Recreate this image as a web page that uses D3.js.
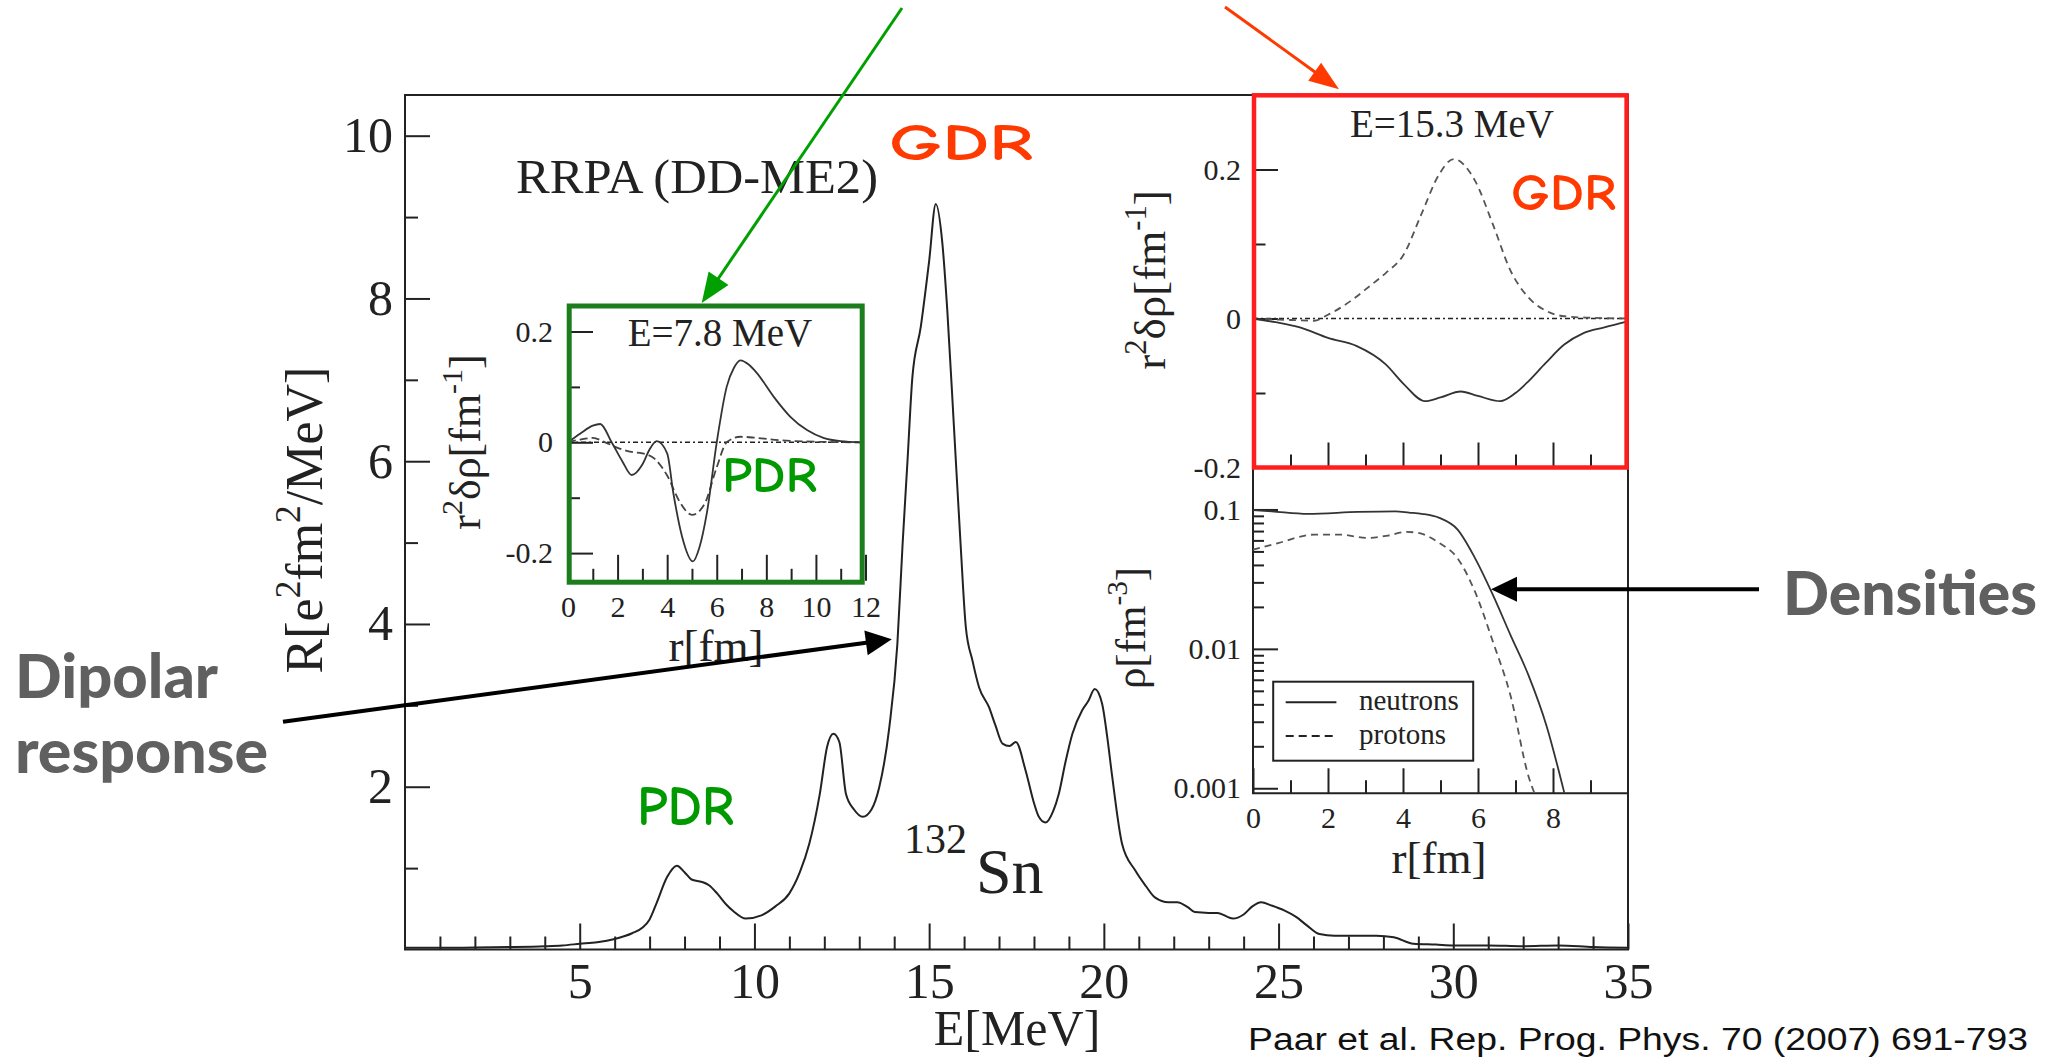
<!DOCTYPE html>
<html><head><meta charset="utf-8">
<script src="https://cdn.jsdelivr.net/npm/d3@7"></script>
<style>body{margin:0;background:#fff}svg{display:block}</style>
</head><body>
<svg id="c" width="2060" height="1058"></svg>
<script>
// ---------- DATA ----------
const spectrumE = [0,1,2,3,4,4.5,5,5.5,6,6.5,6.8,7.0,7.2,7.5,7.78,8.0,8.2,8.5,8.7,8.95,9.2,9.4,9.75,10.2,10.6,11.0,11.3,11.57,11.87,12.08,12.26,12.43,12.62,12.85,13.1,13.35,13.57,13.86,14.09,14.24,14.38,14.52,14.76,15.0,15.19,15.38,15.52,15.71,15.9,16.05,16.24,16.43,16.71,16.9,17.1,17.3,17.48,17.76,18.0,18.14,18.33,18.55,18.71,18.9,19.1,19.38,19.55,19.74,19.95,20.1,20.24,20.52,20.9,21.2,21.46,21.85,22.1,22.4,22.6,23.0,23.25,23.69,24.0,24.25,24.5,24.8,25.16,25.5,25.8,26.17,26.6,27.0,27.8,28.3,28.86,29.5,30,31,32,33,34,35];
const spectrumR = [0.02,0.02,0.025,0.03,0.04,0.05,0.07,0.09,0.13,0.2,0.27,0.37,0.57,0.89,1.03,0.95,0.86,0.83,0.79,0.68,0.55,0.47,0.38,0.42,0.53,0.69,0.95,1.3,1.91,2.49,2.65,2.55,1.91,1.72,1.63,1.72,1.99,2.73,3.75,4.98,6.0,7.03,7.65,8.46,9.16,8.67,7.85,6.42,4.98,3.96,3.55,3.22,2.98,2.75,2.53,2.5,2.55,2.2,1.8,1.63,1.56,1.7,1.91,2.3,2.65,2.94,3.05,3.2,3.02,2.6,2.12,1.3,0.97,0.78,0.64,0.58,0.58,0.52,0.46,0.45,0.45,0.38,0.43,0.53,0.58,0.54,0.48,0.4,0.3,0.19,0.17,0.17,0.17,0.15,0.07,0.06,0.05,0.05,0.04,0.05,0.03,0.02];
const mainXTicks = [5,10,15,20,25,30,35];
const mainXMinor = [1,2,3,4,6,7,8,9,11,12,13,14,16,17,18,19,21,22,23,24,26,27,28,29,31,32,33,34];
const mainYTicks = [2,4,6,8,10];
const mainYMinor = [1,3,5,7,9];

// PDR inset (E=7.8 MeV)
const pdrNeutronR = [0,0.5,1.0,1.3,1.76,2.2,2.57,3.0,3.3,3.58,4.0,4.25,4.6,5.04,5.3,5.6,6.0,6.4,6.7,6.95,7.3,7.62,8.3,8.97,9.64,10.3,11.0,11.8];
const pdrNeutronV = [0,0.016,0.03,0.033,0.0,-0.035,-0.059,-0.04,-0.012,0.002,-0.02,-0.092,-0.17,-0.215,-0.19,-0.128,0.0,0.1,0.135,0.148,0.14,0.125,0.082,0.046,0.022,0.008,0.002,0.0];
const pdrProtonR = [0,0.5,1.0,1.5,2.0,2.5,3.0,3.5,4.0,4.5,5.0,5.5,6.0,6.4,6.95,7.6,8.5,10,11.8];
const pdrProtonV = [0,0.005,0.008,0.0,-0.01,-0.017,-0.02,-0.03,-0.06,-0.107,-0.131,-0.112,-0.045,0.0,0.01,0.008,0.004,0.001,0];
const pdrXTicks = [0,2,4,6,8,10,12];
const pdrXMinor = [1,3,5,7,9,11];
const pdrYTicks = [-0.2,0,0.2];
const pdrYMinor = [-0.1,0.1];

// GDR inset (E=15.3 MeV)
const gdrProtonR = [0,1.0,1.63,2.0,2.59,3.1,3.54,4.02,4.49,4.97,5.35,5.92,6.4,6.87,7.35,7.83,8.3,9.0,10];
const gdrProtonV = [0,-0.002,-0.003,0.005,0.023,0.043,0.061,0.086,0.14,0.194,0.214,0.185,0.126,0.064,0.028,0.01,0.003,0.001,0];
const gdrNeutronR = [0,0.6,1.25,2.0,2.77,3.54,4.02,4.59,5.0,5.54,6.0,6.59,7.0,7.35,7.8,8.3,8.8,9.37,10];
const gdrNeutronV = [0,-0.005,-0.012,-0.026,-0.037,-0.0615,-0.088,-0.111,-0.106,-0.098,-0.104,-0.111,-0.1,-0.084,-0.06,-0.035,-0.02,-0.012,-0.004];
const gdrYTicks = [-0.2,0,0.2];
const gdrYMinor = [-0.1,0.1];
const rTicks = [0,2,4,6,8];
const rMinor = [1,3,5,7,9];

// Densities
const densNeutronR = [0,0.5,1.46,2.8,3.8,4.16,4.5,4.97,5.45,5.92,6.4,6.87,7.35,7.83,8.3];
const densNeutronRho = [0.099,0.097,0.093,0.096,0.097,0.095,0.093,0.087,0.072,0.0448,0.0243,0.0125,0.00643,0.00279,0.00093];
const densProtonR = [0,0.67,1.63,2.3,3.07,3.6,4.09,4.4,4.97,5.45,5.92,6.4,6.87,7.35,7.5];
const densProtonRho = [0.0514,0.0574,0.066,0.066,0.0624,0.065,0.069,0.068,0.0574,0.0448,0.0257,0.0112,0.00459,0.00121,0.00093];
const densYTicks = [0.1,0.01,0.001];
const densYMinor = [0.002,0.003,0.004,0.005,0.006,0.007,0.008,0.009,0.02,0.03,0.04,0.05,0.06,0.07,0.08,0.09];
const legendLabels = ["neutrons","protons"];

// ---------- DRAWING ----------
const svg = d3.select("#c");
const serif = "'Liberation Serif','Times New Roman',serif";
const comic = "'Comic Sans MS','Comic Neue','Noto Sans',sans-serif";
const heavy = "Lato,'Open Sans',Roboto,sans-serif";
const ink = "#222";
const fmt = d => String(d);

function styleAxis(g, fs){
  g.select(".domain").remove();
  g.selectAll("line").attr("stroke", ink).attr("stroke-width", 2);
  g.selectAll("text").attr("font-family", serif).attr("font-size", fs).attr("fill", ink);
}
function axis(gen, tx, ty, fs){
  svg.append("g").attr("transform", `translate(${tx},${ty})`).call(gen).call(g => styleAxis(g, fs));
}
function rich(sel, parts, fs){
  let shift = 0;
  parts.forEach(([s, sup]) => {
    const t = sup ? -0.42*fs : 0;
    sel.append("tspan").attr("dy", t - shift).attr("font-size", sup ? fs*0.68 : fs).text(s);
    shift = t;
  });
}
function vlabel(x, y, parts, fs){
  const t = svg.append("text").attr("transform", `translate(${x},${y}) rotate(-90)`)
    .attr("text-anchor","middle").attr("font-family", serif).attr("fill", ink).attr("font-size", fs);
  rich(t, parts, fs);
}
function label(x, y, s, fs, opts={}){
  const t = svg.append("text").attr("x", x).attr("y", y).attr("font-family", opts.family || serif)
    .attr("font-size", fs).attr("fill", opts.fill || ink).attr("text-anchor", opts.anchor || "start")
    .attr("font-weight", opts.weight || "normal").text(s);
  if (opts.len) t.attr("textLength", opts.len).attr("lengthAdjust", "spacingAndGlyphs");
  return t;
}
function arrow(x1,y1,x2,y2,color,w,hl,hw){
  const dx=x2-x1, dy=y2-y1, L=Math.hypot(dx,dy), ux=dx/L, uy=dy/L;
  const bx=x2-ux*hl, by=y2-uy*hl;
  svg.append("line").attr("x1",x1).attr("y1",y1).attr("x2",bx+ux*2).attr("y2",by+uy*2)
    .attr("stroke",color).attr("stroke-width",w);
  svg.append("polygon").attr("fill",color)
    .attr("points",[[x2,y2],[bx-uy*hw,by+ux*hw],[bx+uy*hw,by-ux*hw]].map(p=>p.join(",")).join(" "));
}

// ---- main plot ----
const x = d3.scaleLinear([0,35],[405,1628]);
const y = d3.scaleLinear([0,10.5],[949.5,95]);
svg.append("rect").attr("x",405).attr("y",95).attr("width",1223).attr("height",854.5)
  .attr("fill","none").attr("stroke",ink).attr("stroke-width",2);
axis(d3.axisBottom(x).tickValues(mainXTicks).tickSize(-26).tickSizeOuter(0).tickPadding(13).tickFormat(fmt), 0, y(0), 50);
axis(d3.axisBottom(x).tickValues(mainXMinor).tickSize(-13).tickSizeOuter(0).tickFormat(()=>""), 0, y(0), 50);
axis(d3.axisLeft(y).tickValues(mainYTicks).tickSize(-25).tickSizeOuter(0).tickPadding(12).tickFormat(fmt), x(0), 0, 50);
axis(d3.axisLeft(y).tickValues(mainYMinor).tickSize(-13).tickSizeOuter(0).tickFormat(()=>""), x(0), 0, 50);
svg.append("path").datum(d3.zip(spectrumE, spectrumR))
  .attr("d", d3.line().x(d=>x(d[0])).y(d=>y(d[1])).curve(d3.curveMonotoneX))
  .attr("fill","none").attr("stroke",ink).attr("stroke-width",2);
label(1017, 1045, "E[MeV]", 50, {anchor:"middle"});
vlabel(322, 520, [["R[e",0],["2",1],["fm",0],["2",1],["/MeV]",0]], 52);
label(516, 193, "RRPA (DD-ME2)", 48, {len:362});
label(904, 853, "132", 42);
label(976, 893, "Sn", 64);

// ---- PDR inset ----
const gx = d3.scaleLinear([0,12],[568,865.5]);
const gy = d3.scaleLinear([-0.25,0.25],[580.8,303.8]);
svg.append("rect").attr("x",569).attr("y",306).attr("width",293).attr("height",276).attr("fill","#fff");
axis(d3.axisBottom(gx).tickValues(pdrXTicks).tickSize(-26).tickSizeOuter(0).tickPadding(15).tickFormat(fmt), 0, gy(-0.25), 30);
axis(d3.axisBottom(gx).tickValues(pdrXMinor).tickSize(-12).tickSizeOuter(0).tickFormat(()=>""), 0, gy(-0.25), 30);
axis(d3.axisLeft(gy).tickValues(pdrYTicks).tickSize(-25).tickSizeOuter(0).tickPadding(15).tickFormat(fmt), gx(0), 0, 30);
axis(d3.axisLeft(gy).tickValues(pdrYMinor).tickSize(-12).tickSizeOuter(0).tickFormat(()=>""), gx(0), 0, 30);
svg.append("line").attr("x1",gx(0)).attr("x2",862).attr("y1",gy(0)).attr("y2",gy(0))
  .attr("stroke",ink).attr("stroke-width",1.6).attr("stroke-dasharray","5,3,2,3");
svg.append("path").datum(d3.zip(pdrProtonR, pdrProtonV))
  .attr("d", d3.line().x(d=>gx(d[0])).y(d=>gy(d[1])).curve(d3.curveMonotoneX))
  .attr("fill","none").attr("stroke","#444").attr("stroke-width",1.8).attr("stroke-dasharray","8,4");
svg.append("path").datum(d3.zip(pdrNeutronR, pdrNeutronV))
  .attr("d", d3.line().x(d=>gx(d[0])).y(d=>gy(d[1])).curve(d3.curveMonotoneX))
  .attr("fill","none").attr("stroke","#333").attr("stroke-width",1.8);
svg.append("rect").attr("x",569.2).attr("y",306).attr("width",293).attr("height",276.2)
  .attr("fill","none").attr("stroke","#1b7d1b").attr("stroke-width",5);
label(720, 346, "E=7.8 MeV", 39, {anchor:"middle"});
label(716, 661, "r[fm]", 45, {anchor:"middle"});
vlabel(480, 442, [["r",0],["2",1],["δρ[fm",0],["-1",1],["]",0]], 44);
label(722, 491.7, "PDR", 50, {family:comic, fill:"#009a00", len:95, weight:600});

// ---- GDR inset (upper right) ----
const rx = d3.scaleLinear([0,10],[1253,1628]);
const ry = d3.scaleLinear([-0.2,0.3],[467.5,95]);
svg.append("rect").attr("x",1253).attr("y",95).attr("width",375).attr("height",698.3).attr("fill","#fff");
axis(d3.axisLeft(ry).tickValues(gdrYTicks).tickSize(-25).tickSizeOuter(0).tickPadding(12).tickFormat(fmt), rx(0), 0, 30);
axis(d3.axisLeft(ry).tickValues(gdrYMinor).tickSize(-12.5).tickSizeOuter(0).tickFormat(()=>""), rx(0), 0, 30);
axis(d3.axisBottom(rx).tickValues([2,4,6,8]).tickSize(-25).tickSizeOuter(0).tickFormat(()=>""), 0, ry(-0.2), 30);
axis(d3.axisBottom(rx).tickValues(rMinor).tickSize(-13).tickSizeOuter(0).tickFormat(()=>""), 0, ry(-0.2), 30);
svg.append("line").attr("x1",rx(0)).attr("x2",rx(10)).attr("y1",ry(0)).attr("y2",ry(0))
  .attr("stroke",ink).attr("stroke-width",1.6).attr("stroke-dasharray","5,3,2,3");
svg.append("path").datum(d3.zip(gdrProtonR, gdrProtonV))
  .attr("d", d3.line().x(d=>rx(d[0])).y(d=>ry(d[1])).curve(d3.curveMonotoneX))
  .attr("fill","none").attr("stroke","#555").attr("stroke-width",1.8).attr("stroke-dasharray","7,5");
svg.append("path").datum(d3.zip(gdrNeutronR, gdrNeutronV))
  .attr("d", d3.line().x(d=>rx(d[0])).y(d=>ry(d[1])).curve(d3.curveMonotoneX))
  .attr("fill","none").attr("stroke","#333").attr("stroke-width",1.8);
label(1452, 136.7, "E=15.3 MeV", 39, {anchor:"middle"});
vlabel(1165, 280, [["r",0],["2",1],["δρ[fm",0],["-1",1],["]",0]], 45);
label(1511, 210, "GDR", 52, {family:comic, fill:"#ff3a00", len:105, weight:600});

// ---- density panel ----
const dy = d3.scaleLog([0.00092,0.2],[793.3,467.5]);
svg.append("path").attr("d",`M${rx(0)},467.5V793.3H${rx(10)}`).attr("fill","none").attr("stroke",ink).attr("stroke-width",2);
axis(d3.axisLeft(dy).tickValues(densYTicks).tickSize(-25).tickSizeOuter(0).tickPadding(12).tickFormat(fmt), rx(0), 0, 30);
axis(d3.axisLeft(dy).tickValues(densYMinor).tickSize(-11).tickSizeOuter(0).tickFormat(()=>""), rx(0), 0, 30);
axis(d3.axisBottom(rx).tickValues(rTicks).tickSize(-25).tickSizeOuter(0).tickPadding(13).tickFormat(fmt), 0, 793.3, 30);
axis(d3.axisBottom(rx).tickValues(rMinor).tickSize(-13).tickSizeOuter(0).tickFormat(()=>""), 0, 793.3, 30);
svg.append("path").datum(d3.zip(densProtonR, densProtonRho))
  .attr("d", d3.line().x(d=>rx(d[0])).y(d=>dy(d[1])).curve(d3.curveMonotoneX))
  .attr("fill","none").attr("stroke","#555").attr("stroke-width",1.8).attr("stroke-dasharray","7,5");
svg.append("path").datum(d3.zip(densNeutronR, densNeutronRho))
  .attr("d", d3.line().x(d=>rx(d[0])).y(d=>dy(d[1])).curve(d3.curveMonotoneX))
  .attr("fill","none").attr("stroke","#333").attr("stroke-width",1.8);
svg.append("rect").attr("x",1273.2).attr("y",681.7).attr("width",200).attr("height",79)
  .attr("fill","#fff").attr("stroke",ink).attr("stroke-width",2);
svg.append("line").attr("x1",1285.7).attr("x2",1336.4).attr("y1",702.3).attr("y2",702.3).attr("stroke",ink).attr("stroke-width",2);
svg.append("line").attr("x1",1285.7).attr("x2",1336.4).attr("y1",736).attr("y2",736).attr("stroke",ink).attr("stroke-width",2).attr("stroke-dasharray","8,5");
label(1359, 710, legendLabels[0], 29);
label(1359, 743.5, legendLabels[1], 29);
label(1439, 873, "r[fm]", 45, {anchor:"middle"});
vlabel(1145, 628, [["ρ[fm",0],["-3",1],["]",0]], 43);
// right border of main frame over the panels
svg.append("line").attr("x1",1628).attr("x2",1628).attr("y1",95).attr("y2",949.5).attr("stroke",ink).attr("stroke-width",2);
// red box
svg.append("rect").attr("x",1254).attr("y",95.3).attr("width",372.6).attr("height",372.2)
  .attr("fill","none").attr("stroke","#ff1e1e").attr("stroke-width",4.5);

// ---- annotations ----
label(889, 160, "GDR", 52, {family:comic, fill:"#ff3a00", len:144, weight:600});
label(637, 825, "PDR", 56, {family:comic, fill:"#009a00", len:97, weight:600});
arrow(902, 8, 701.7, 303, "#00a000", 3, 30, 12);
arrow(1225, 7, 1339, 89.3, "#ff3a00", 3, 30, 11);
arrow(283, 721.7, 891.8, 639.3, "#000", 4, 26, 12.5);
arrow(1759, 589.3, 1491, 589.3, "#000", 4, 26, 12.5);
label(15, 698, "Dipolar", 61, {family:heavy, weight:900, fill:"#606060", len:203});
label(15, 773, "response", 61, {family:heavy, weight:900, fill:"#606060", len:253});
label(1783, 615, "Densities", 61, {family:heavy, weight:900, fill:"#606060", len:254});
label(1248, 1050, "Paar et al. Rep. Prog. Phys. 70 (2007) 691-793", 31, {family:"'Liberation Sans',Arial,sans-serif", fill:"#111", len:780});
</script>
</body></html>
